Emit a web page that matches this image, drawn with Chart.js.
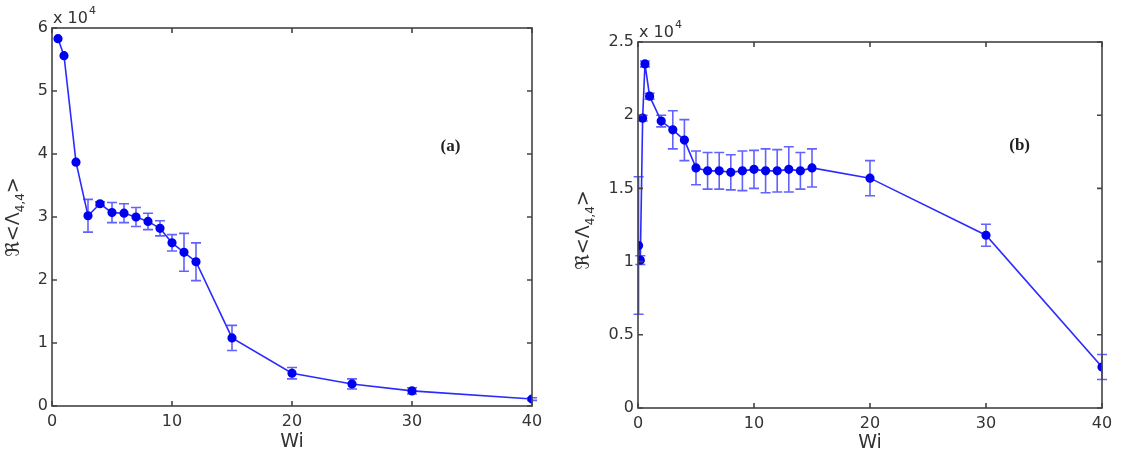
<!DOCTYPE html>
<html>
<head>
<meta charset="utf-8">
<script src="https://cdn.jsdelivr.net/npm/chart.js@4.4.0/dist/chart.umd.min.js"></script>
<style>
    body { margin: 0; background: #fff; width: 1133px; height: 452px; overflow: hidden; position: relative; }
    .panel { position: absolute; top: 0; height: 452px; }
    #panelA { left: 0; width: 566px; }
    #panelB { left: 566px; width: 567px; }
</style>
</head>
<body>
<div class="panel" id="panelA"><canvas id="chartA"></canvas></div>
<div class="panel" id="panelB"><canvas id="chartB"></canvas></div>
<script>
// Dados do painel (a) - valores em unidades de 10^4
const wiA = [0.5, 1, 2, 3, 4, 5, 6, 7, 8, 9, 10, 11, 12, 15, 20, 25, 30, 40];
const valA = [5.83, 5.56, 3.87, 3.02, 3.21, 3.07, 3.06, 3.00, 2.93, 2.82, 2.59, 2.44, 2.29, 1.08, 0.52, 0.35, 0.24, 0.11];
const errA = [0, 0, 0, 0.26, 0.03, 0.16, 0.15, 0.15, 0.13, 0.12, 0.13, 0.30, 0.30, 0.20, 0.09, 0.08, 0.05, 0.02];

// Dados do painel (b)
const wiB = [0.05, 0.2, 0.4, 0.6, 1, 2, 3, 4, 5, 6, 7, 8, 9, 10, 11, 12, 13, 14, 15, 20, 30, 40];
const valB = [1.11, 1.01, 1.98, 2.35, 2.13, 1.96, 1.90, 1.83, 1.64, 1.62, 1.62, 1.61, 1.62, 1.63, 1.62, 1.62, 1.63, 1.62, 1.64, 1.57, 1.18, 0.28];
const errB = [0.47, 0.03, 0.02, 0.02, 0.02, 0.04, 0.13, 0.14, 0.115, 0.125, 0.125, 0.12, 0.135, 0.13, 0.15, 0.145, 0.155, 0.125, 0.13, 0.12, 0.075, 0.085];

// Marcas dos eixos
const xTicks = [0, 10, 20, 30, 40];
const yTicksA = [0, 1, 2, 3, 4, 5, 6];
const yTicksB = [0, 0.5, 1, 1.5, 2, 2.5];

const tickFont = { family: 'DejaVu Sans', size: 16 };
const textColor = '#333';
const lineColor = '#2b2bff';
const barColor = 'rgba(70,70,255,0.85)';

// Barras de erro
const errorBars = {
    id: 'errorBars',
    beforeDatasetsDraw(chart, args, opts) {
        const ctx = chart.ctx;
        const yScale = chart.scales.y;
        const meta = chart.getDatasetMeta(0);
        const data = chart.data.datasets[0].data;
        ctx.save();
        ctx.strokeStyle = barColor;
        ctx.lineWidth = 1.6;
        meta.data.forEach((pt, i) => {
            const e = opts.errors[i];
            if (!e) return;
            const top = yScale.getPixelForValue(data[i].y + e);
            const bot = yScale.getPixelForValue(data[i].y - e);
            ctx.beginPath();
            ctx.moveTo(pt.x, top); ctx.lineTo(pt.x, bot);
            ctx.moveTo(pt.x - 5, top); ctx.lineTo(pt.x + 5, top);
            ctx.moveTo(pt.x - 5, bot); ctx.lineTo(pt.x + 5, bot);
            ctx.stroke();
        });
        ctx.restore();
    }
};

// Caixa e marcas interiores (estilo MATLAB)
const axesBox = {
    id: 'axesBox',
    afterDraw(chart) {
        const ctx = chart.ctx;
        const a = chart.chartArea;
        const xs = chart.scales.x, ys = chart.scales.y;
        ctx.save();
        ctx.strokeStyle = '#444';
        ctx.lineWidth = 1.6;
        ctx.strokeRect(a.left, a.top, a.right - a.left, a.bottom - a.top);
        ctx.beginPath();
        xs.ticks.forEach(t => {
            const px = xs.getPixelForValue(t.value);
            ctx.moveTo(px, a.bottom); ctx.lineTo(px, a.bottom - 5);
            ctx.moveTo(px, a.top); ctx.lineTo(px, a.top + 5);
        });
        ys.ticks.forEach(t => {
            const py = ys.getPixelForValue(t.value);
            ctx.moveTo(a.left, py); ctx.lineTo(a.left + 5, py);
            ctx.moveTo(a.right, py); ctx.lineTo(a.right - 5, py);
        });
        ctx.stroke();
        ctx.restore();
    }
};

// Textos: Wi, rótulo do eixo y, x 10^4 e (a)/(b)
const labels = {
    id: 'labels',
    afterDraw(chart, args, opts) {
        const ctx = chart.ctx;
        const a = chart.chartArea;
        ctx.save();
        ctx.fillStyle = textColor;

        ctx.font = '19px "DejaVu Sans"';
        ctx.textAlign = 'center';
        ctx.textBaseline = 'middle';
        ctx.fillText('Wi', (a.left + a.right) / 2, opts.wiY);

        // x 10^4
        ctx.textAlign = 'left';
        ctx.textBaseline = 'alphabetic';
        ctx.font = '16px "DejaVu Sans"';
        ctx.fillText('x 10', a.left + 1, a.top - 5);
        const w = ctx.measureText('x 10').width;
        ctx.font = '11px "DejaVu Sans"';
        ctx.fillText('4', a.left + 2 + w, a.top - 14);

        // rótulo vertical
        const size = 19;
        ctx.translate(opts.yLabelX, (a.top + a.bottom) / 2 + opts.yLabelShift);
        ctx.rotate(-Math.PI / 2);
        const main = size + 'px "DejaVu Sans"';
        const sub = '12px "DejaVu Sans"';
        ctx.font = main;
        const w1 = ctx.measureText('ℜ<Λ').width;
        const w3 = ctx.measureText('>').width;
        ctx.font = sub;
        const w2 = ctx.measureText('4,4').width;
        let cx = -(w1 + w2 + w3) / 2;
        ctx.font = main; ctx.fillText('ℜ<Λ', cx, 7); cx += w1;
        ctx.font = sub; ctx.fillText('4,4', cx, 12); cx += w2;
        ctx.font = main; ctx.fillText('>', cx, 7);
        ctx.restore();

        // (a) / (b)
        ctx.save();
        ctx.fillStyle = '#222';
        ctx.font = 'bold 17px "Liberation Serif"';
        ctx.textAlign = 'center';
        ctx.textBaseline = 'middle';
        ctx.fillText(opts.tag, chart.scales.x.getPixelForValue(opts.tagX), chart.scales.y.getPixelForValue(opts.tagY));
        ctx.restore();
    }
};

function makeChart(id, wi, vals, errs, yTicks, yMax, cfg) {
    new Chart(document.getElementById(id), {
        type: 'line',
        data: {
            datasets: [{
                data: wi.map((x, i) => ({ x: x, y: vals[i] })),
                borderColor: lineColor,
                borderWidth: 1.6,
                pointBackgroundColor: '#0000f0',
                pointBorderColor: '#0000f0',
                pointRadius: 3.8,
                tension: 0
            }]
        },
        options: {
            responsive: true,
            maintainAspectRatio: false,
            animation: false,
            layout: { padding: { top: cfg.top, right: cfg.right, left: 0, bottom: 0 } },
            plugins: {
                legend: { display: false },
                tooltip: { enabled: false },
                errorBars: { errors: errs },
                labels: cfg.labels
            },
            scales: {
                x: {
                    type: 'linear', min: 0, max: 40,
                    afterBuildTicks: s => { s.ticks = xTicks.map(v => ({ value: v })); },
                    afterFit: s => { s.height = cfg.xHeight; },
                    grid: { display: false, drawTicks: false },
                    border: { display: false },
                    ticks: { font: tickFont, color: textColor, padding: 6, maxRotation: 0, callback: v => String(v) }
                },
                y: {
                    type: 'linear', min: 0, max: yMax,
                    afterBuildTicks: s => { s.ticks = yTicks.map(v => ({ value: v })); },
                    afterFit: s => { s.width = cfg.yWidth; },
                    grid: { display: false, drawTicks: false },
                    border: { display: false },
                    ticks: { font: tickFont, color: textColor, padding: 4, callback: v => String(v) }
                }
            }
        },
        plugins: [errorBars, axesBox, labels]
    });
}

window.addEventListener('DOMContentLoaded', function() {
    makeChart('chartA', wiA, valA, errA, yTicksA, 6, {
        top: 28, right: 34, xHeight: 46, yWidth: 52,
        labels: { wiY: 442, yLabelX: 12, yLabelShift: 0, tag: '(a)', tagX: 33.2, tagY: 4.11 }
    });
    makeChart('chartB', wiB, valB, errB, yTicksB, 2.5, {
        top: 42, right: 31, xHeight: 44, yWidth: 72,
        labels: { wiY: 443, yLabelX: 16, yLabelShift: 5, tag: '(b)', tagX: 32.9, tagY: 1.79 }
    });
});
</script>
</body>
</html>
